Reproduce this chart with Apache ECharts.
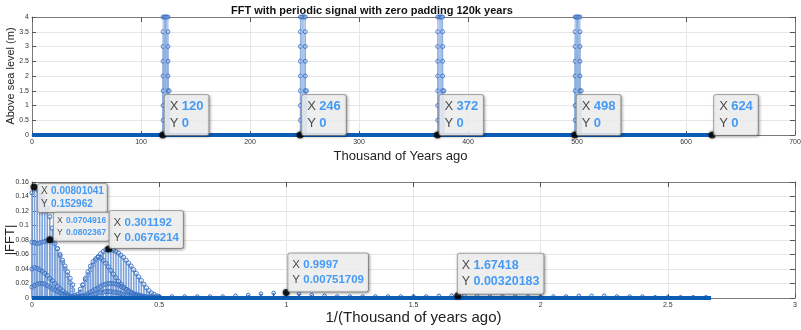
<!DOCTYPE html>
<html>
<head>
<meta charset="utf-8">
<script src="https://cdn.jsdelivr.net/npm/echarts@6/dist/echarts.min.js"></script>
<style>
html, body { margin: 0; padding: 0; background: #fff; }
#main { width: 801px; height: 330px; }
</style>
</head>
<body>
<div id="main"></div>
<script>
// ---- top plot: periodic signal with zero padding ----
var signalSpan = [0, 624];
var spikeStarts = [120, 246, 372, 498];
var spikeDx = [0.3, 0.3, 0.3, 0.3, 0.3, 0.3, 0.3, 0.3, 1.5, 2.5, 3.5, 4.7, 4.7, 4.7, 4.7, 4.7, 4.7, 5.9, 5.9];
var spikeLevel = [4, 3.5, 3, 2.5, 2, 1.5, 1, 0.5, 4, 4, 4, 4, 3.5, 3, 2.5, 2, 1.5, 1.5, 1];
var topTipX = [120, 246, 372, 498, 624];
var topTipY = [0, 0, 0, 0, 0];

// ---- bottom plot: |FFT| ----
var fftSpan = [0, 2.67];
var fftFreq = [0, 0.01, 0.02, 0.03, 0.04, 0.05, 0.06, 0.07, 0.08, 0.09,
    0.10, 0.11, 0.12, 0.13, 0.14, 0.15, 0.16, 0.17, 0.18, 0.19,
    0.20, 0.21, 0.22, 0.23, 0.24, 0.25, 0.26, 0.27, 0.28, 0.29,
    0.30, 0.31, 0.32, 0.33, 0.34, 0.35, 0.36, 0.37, 0.38, 0.39,
    0.40, 0.41, 0.42, 0.43, 0.44, 0.45, 0.46, 0.47, 0.48, 0.49, 0.50];
var fftUpper = [0.145, 0.153, 0.150, 0.146, 0.140, 0.133, 0.124, 0.112, 0.096, 0.080,
    0.068, 0.058, 0.049, 0.040, 0.031, 0.021, 0.011, 0.003, 0.005, 0.012,
    0.018, 0.025, 0.032, 0.039, 0.046, 0.052, 0.057, 0.061, 0.064, 0.0665,
    0.0676, 0.067, 0.066, 0.064, 0.062, 0.059, 0.056, 0.052, 0.048, 0.044,
    0.039, 0.034, 0.029, 0.024, 0.019, 0.014, 0.010, 0.007, 0.005, 0.003, 0.002];
var fftSecond = [0.077, 0.076, 0.075, 0.076, 0.077, 0.078, 0.079, 0.080, 0.079, 0.075,
    0.068, 0.060, 0.052, 0.044, 0.036, 0.027, 0.018, 0.004, 0.002, 0.008,
    0.018, 0.027, 0.036, 0.044, 0.050, 0.054, 0.056, 0.055, 0.052, 0.048,
    0.043, 0.038, 0.033, 0.028, 0.023, 0.019, 0.015, 0.012, 0.009, 0.007,
    0.005, 0.004, 0.003, 0.002, 0.002, 0.001, 0.001, 0.001, 0.001, 0.001, 0.001];
var fftThird = [0.040, 0.042, 0.041, 0.039, 0.037, 0.034, 0.031, 0.027, 0.024, 0.020,
    0.016, 0.013, 0.010, 0.007, 0.005, 0.003, 0.002, 0.001, 0.001, 0.002,
    0.003, 0.004, 0.006, 0.008, 0.010, 0.012, 0.014, 0.016, 0.018, 0.019,
    0.020, 0.020, 0.020, 0.019, 0.018, 0.016, 0.014, 0.012, 0.010, 0.008,
    0.006, 0.005, 0.004, 0.003, 0.002, 0.002, 0.001, 0.001, 0.001, 0.001, 0.001];
var fftLow = [0.015, 0.017, 0.019, 0.020, 0.020, 0.019, 0.017, 0.015, 0.013, 0.011,
    0.009, 0.007, 0.005, 0.004, 0.003, 0.002, 0.001, 0.001, 0.001, 0.001,
    0.002, 0.002, 0.003, 0.004, 0.005, 0.006, 0.007, 0.008, 0.008, 0.009,
    0.009, 0.009, 0.008, 0.008, 0.007, 0.006, 0.005, 0.004, 0.003, 0.003,
    0.002, 0.002, 0.001, 0.001, 0.001, 0.001, 0.001, 0.001, 0.001, 0.001, 0.001];
var tailFreq = [0.55, 0.60, 0.65, 0.70, 0.75, 0.80, 0.85, 0.90, 0.95, 1.00,
    1.05, 1.10, 1.15, 1.20, 1.25, 1.30, 1.35, 1.40, 1.45, 1.50,
    1.55, 1.60, 1.65, 1.70, 1.75, 1.80, 1.85, 1.90, 1.95, 2.00,
    2.05, 2.10, 2.15, 2.20, 2.25, 2.30, 2.35, 2.40, 2.45, 2.50,
    2.55, 2.60, 2.65];
var tailMag = [0.002, 0.002, 0.002, 0.002, 0.002, 0.003, 0.004, 0.006, 0.007, 0.0075,
    0.006, 0.004, 0.003, 0.002, 0.002, 0.002, 0.002, 0.002, 0.002, 0.002,
    0.002, 0.003, 0.0032, 0.003, 0.003, 0.002, 0.002, 0.002, 0.002, 0.002,
    0.002, 0.002, 0.003, 0.003, 0.003, 0.002, 0.002, 0.002, 0.001, 0.001,
    0.001, 0.001, 0.001];
var fftTipX = [0.00801041, 0.0704916, 0.301192, 0.9997, 1.67418];
var fftTipY = [0.152962, 0.0802367, 0.0676214, 0.00751709, 0.00320183];

var FONT = '"Liberation Sans", Arial, sans-serif';
var chart = echarts.init(document.getElementById('main'));

function pairs(xs, ys) {
    var out = [];
    for (var i = 0; i < xs.length; i++) out.push([xs[i], ys[i]]);
    return out;
}

var spikeData = [];
spikeStarts.forEach(function (s) {
    for (var i = 0; i < spikeDx.length; i++) spikeData.push([s + spikeDx[i], spikeLevel[i]]);
});

function makeStemRender(stemColor, stemWidth, ringColor, r) {
    return function (params, api) {
        var p0 = api.coord([api.value(0), 0]);
        var p1 = api.coord([api.value(0), api.value(1)]);
        return {
            type: 'group',
            children: [
                { type: 'line', shape: { x1: p0[0], y1: p0[1], x2: p1[0], y2: p1[1] },
                  style: { stroke: stemColor, lineWidth: stemWidth } },
                { type: 'circle', shape: { cx: p1[0], cy: p1[1], r: r },
                  style: { fill: 'rgba(255,255,255,0)', stroke: ringColor, lineWidth: 0.9 } }
            ]
        };
    };
}

function stemSeries(data, xi, yi, render) {
    return {
        type: 'custom', xAxisIndex: xi, yAxisIndex: yi, clip: false, silent: true,
        renderItem: render, encode: { x: 0, y: 1 }, data: data, z: 3
    };
}

var spikeRender = makeStemRender('#8fb0e0', 1, '#3f74c5', 2);
var fftRender = makeStemRender('#7ea3da', 1.6, '#3a70c2', 2.1);
var tailRender = makeStemRender('#2c66bd', 1.5, '#1f5fba', 1.8);

function baseLine(span, xi, yi) {
    return {
        type: 'line', xAxisIndex: xi, yAxisIndex: yi, clip: false, silent: true,
        symbol: 'none', data: [[span[0], 0], [span[1], 0]],
        lineStyle: { color: '#0c5cb6', width: 4 }, z: 4
    };
}

// per-tip label styles: font size, offset of box corner from the point, anchor
var topTipStyle = { fs: 13, dx: 2, dy: 0, va: 'bottom', pad: [3, 5, 3, 5] };
var fftTipStyle = [
    { fs: 10, dx: 4, dy: -3, va: 'top', pad: [1, 3, 1, 3] },
    { fs: 8.5, dx: 4, dy: 1, va: 'bottom', pad: [2, 3, 2, 3] },
    { fs: 11.5, dx: 1, dy: -1, va: 'bottom', pad: [4, 4, 3, 4] },
    { fs: 11.5, dx: 2, dy: -1, va: 'bottom', pad: [4, 4, 4, 4] },
    { fs: 12.5, dx: 0, dy: -2, va: 'bottom', pad: [4, 4, 4, 4] }
];

function tipItem(x, y, st) {
    var lh = Math.round(st.fs * 1.28);
    return {
        value: [x, y],
        label: {
            show: true,
            position: [3.5 + st.dx, 3.5 + st.dy],
            align: 'left',
            verticalAlign: st.va,
            formatter: '{k|X} {v|' + x + '}\n{k|Y} {v|' + y + '}',
            backgroundColor: '#fbfbfd',
            borderColor: '#9a9a9a',
            borderWidth: 1,
            borderRadius: 2,
            padding: st.pad,
            shadowBlur: 3,
            shadowColor: 'rgba(0,0,0,0.35)',
            shadowOffsetX: 1,
            shadowOffsetY: 1,
            rich: {
                k: { fontSize: st.fs, color: '#222', lineHeight: lh, fontFamily: FONT },
                v: { fontSize: st.fs, color: '#1a86f5', fontWeight: 'bold', lineHeight: lh, fontFamily: FONT }
            }
        }
    };
}

var topTips = [];
for (var i = 0; i < topTipX.length; i++) topTips.push(tipItem(topTipX[i], topTipY[i], topTipStyle));
var fftTips = [];
for (var j = 0; j < fftTipX.length; j++) fftTips.push(tipItem(fftTipX[j], fftTipY[j], fftTipStyle[j]));

function tipSeries(data, xi, yi) {
    return {
        type: 'scatter', xAxisIndex: xi, yAxisIndex: yi, clip: false, silent: true,
        symbolSize: 7, data: data, z: 10,
        itemStyle: { color: '#000', shadowBlur: 3, shadowColor: 'rgba(0,0,0,0.6)' }
    };
}

var axisCol = '#7a7a7a';
function xAx(grid, max, interval, name, gap, nameSize, namePad) {
    return {
        gridIndex: grid, type: 'value', min: 0, max: max, interval: interval, position: 'bottom',
        axisLine: { show: true, onZero: false, lineStyle: { color: axisCol } },
        axisTick: { show: true, inside: true, length: 4, lineStyle: { color: '#555' } },
        axisLabel: { fontSize: 7, color: '#333', margin: 4, fontFamily: FONT },
        splitLine: { show: true, lineStyle: { color: '#e6e6e6' } },
        name: name, nameLocation: 'middle', nameGap: gap,
        nameTextStyle: { fontSize: nameSize, color: '#222', fontFamily: FONT, padding: namePad }
    };
}
function xTop(grid, max, interval) {
    return {
        gridIndex: grid, type: 'value', min: 0, max: max, interval: interval, position: 'top',
        axisLine: { show: true, onZero: false, lineStyle: { color: axisCol } },
        axisTick: { show: true, inside: true, length: 5, lineStyle: { color: '#555' } },
        axisLabel: { show: false }, splitLine: { show: false }
    };
}
function yAx(grid, max, interval, name, gap, nameSize) {
    return {
        gridIndex: grid, type: 'value', min: 0, max: max, interval: interval, position: 'left',
        axisLine: { show: true, onZero: false, lineStyle: { color: axisCol } },
        axisTick: { show: true, inside: true, length: 4, lineStyle: { color: '#555' } },
        axisLabel: { fontSize: 7, color: '#333', margin: 3, fontFamily: FONT },
        splitLine: { show: true, lineStyle: { color: '#e6e6e6' } },
        name: name, nameLocation: 'middle', nameGap: gap, nameRotate: 90, nameMoveOverlap: false,
        nameTextStyle: { fontSize: nameSize, color: '#222', fontFamily: FONT }
    };
}
function yRight(grid, max, interval) {
    return {
        gridIndex: grid, type: 'value', min: 0, max: max, interval: interval, position: 'right',
        axisLine: { show: true, onZero: false, lineStyle: { color: axisCol } },
        axisTick: { show: true, inside: true, length: 5, lineStyle: { color: '#555' } },
        axisLabel: { show: false }, splitLine: { show: false }
    };
}

var option = {
    animation: false,
    title: {
        text: 'FFT with periodic signal with zero padding 120k years',
        left: 226, top: 0,
        textStyle: { fontSize: 11, fontWeight: 'bold', color: '#111', fontFamily: FONT }
    },
    grid: [
        { left: 32, right: 6, top: 17, height: 118, containLabel: false, outerBoundsMode: 'none' },
        { left: 32, right: 6, top: 182, height: 116, containLabel: false, outerBoundsMode: 'none' }
    ],
    xAxis: [
        xAx(0, 700, 100, 'Thousand of Years ago', 15, 13, [0, 26, 0, 0]),
        xTop(0, 700, 100),
        xAx(1, 3, 0.5, '1/(Thousand of years ago)', 12, 15, [0, 0, 0, 0]),
        xTop(1, 3, 0.5)
    ],
    yAxis: [
        yAx(0, 4, 0.5, 'Above sea level (m)', 16, 11),
        yRight(0, 4, 0.5),
        yAx(1, 0.16, 0.02, '|FFT|', 15, 13),
        yRight(1, 0.16, 0.02)
    ],
    series: [
        stemSeries(spikeData, 0, 0, spikeRender),
        baseLine(signalSpan, 0, 0),
        tipSeries(topTips, 0, 0),
        stemSeries(pairs(fftFreq, fftUpper), 2, 2, fftRender),
        stemSeries(pairs(fftFreq, fftSecond), 2, 2, fftRender),
        stemSeries(pairs(fftFreq, fftThird), 2, 2, fftRender),
        stemSeries(pairs(fftFreq, fftLow), 2, 2, fftRender),
        stemSeries(pairs(tailFreq, tailMag), 2, 2, tailRender),
        baseLine(fftSpan, 2, 2),
        tipSeries(fftTips, 2, 2)
    ]
};
chart.setOption(option);
</script>
</body>
</html>
